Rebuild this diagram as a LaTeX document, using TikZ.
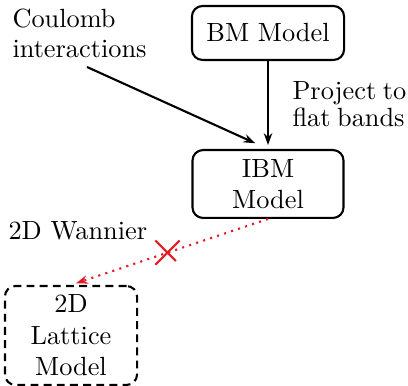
\documentclass[tikz,border=0pt]{standalone}
\usetikzlibrary{arrows.meta,shapes.misc}
\definecolor{xred}{RGB}{228,26,36}
\begin{document}
\begin{tikzpicture}[x=0.38pt,y=-0.38pt,
  model/.style={draw, thick, rounded corners=4pt, align=center, inner sep=0pt},
  arr/.style={thick, -{Stealth[length=4.5pt,width=3.2pt]}},
  lbl/.style={align=left, inner sep=0pt, anchor=west}]
\useasboundingbox (0,0) rectangle (408,386);

% model boxes
\node[model, minimum width=57.8pt, minimum height=20.5pt] (bm) at (268,33) {BM Model};
\node[model, minimum width=57.4pt, minimum height=25.8pt] (ibm) at (268,184) {IBM\\Model};
\node[model, dash pattern=on 3pt off 2pt, minimum width=50.2pt, minimum height=37.6pt] (lat) at (71,335.5) {2D\\Lattice\\Model};

% free labels
\node[lbl] (coul) at (12,33) {Coulomb\\[-0.6pt]interactions};
\node[lbl] (proj) at (292,104.5) {Project\hspace{0.25em}to\\[-1.7pt]flat\hspace{0.25em}bands};
\node[lbl] (wan) at (8,231) {2D Wannier};

% connectors
\coordinate (cstart) at (87,67);
\draw[arr, shorten >=5.3pt] (cstart) -- (ibm.north);
\draw[arr, shorten >=1.5pt] (bm.south) -- (ibm.north);
\draw[xred, thick, dotted, -{Stealth[length=4.5pt,width=3.2pt]}, shorten >=2pt]
  (ibm.south) -- (lat.north)
  node[pos=0.51, cross out, draw=xred, solid, thick, minimum size=8.4pt, inner sep=0pt] (cross) {};
\end{tikzpicture}
\end{document}
